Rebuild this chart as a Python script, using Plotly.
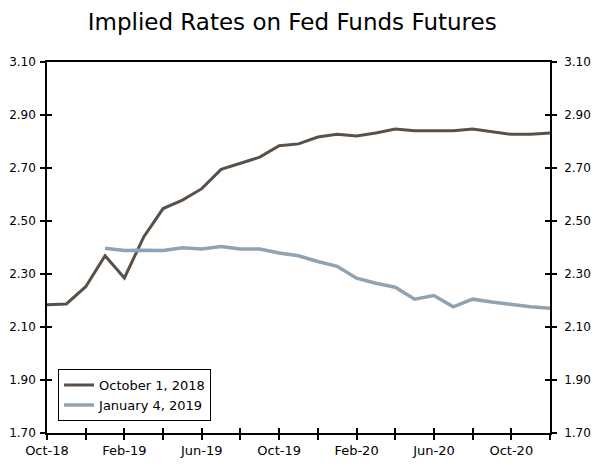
import plotly.graph_objects as go

months = ["Oct-18", "Nov-18", "Dec-18", "Jan-19", "Feb-19", "Mar-19", "Apr-19", "May-19",
          "Jun-19", "Jul-19", "Aug-19", "Sep-19", "Oct-19", "Nov-19", "Dec-19", "Jan-20",
          "Feb-20", "Mar-20", "Apr-20", "May-20", "Jun-20", "Jul-20", "Aug-20", "Sep-20",
          "Oct-20", "Nov-20", "Dec-20"]

oct_2018 = [2.184, 2.187, 2.252, 2.369, 2.285, 2.440, 2.547, 2.579, 2.622, 2.695, 2.718,
            2.741, 2.784, 2.791, 2.817, 2.827, 2.821, 2.832, 2.847, 2.841, 2.841, 2.841,
            2.847, 2.837, 2.827, 2.827, 2.832]

jan_2019_months = months[3:]
jan_2019 = [2.397, 2.389, 2.390, 2.389, 2.399, 2.394, 2.404, 2.394, 2.394, 2.379, 2.369,
            2.347, 2.329, 2.284, 2.265, 2.250, 2.205, 2.219, 2.176, 2.205, 2.194, 2.184,
            2.176, 2.171]

tick_months = months[::2]
tick_labels = [m if i % 2 == 0 else "" for i, m in enumerate(tick_months)]

y_ticks = [1.70, 1.90, 2.10, 2.30, 2.50, 2.70, 2.90, 3.10]
y_labels = ["%.2f" % v for v in y_ticks]

FONT = "DejaVu Sans"

fig = go.Figure()
fig.add_trace(go.Scatter(x=months, y=oct_2018, mode="lines", name="October 1, 2018",
                         line=dict(color="#5b5048", width=3)))
fig.add_trace(go.Scatter(x=jan_2019_months, y=jan_2019, mode="lines", name="January 4, 2019",
                         line=dict(color="#8ea3b3", width=3.5)))
# invisible helper trace so the overlay axes (crossing ticks) are drawn
fig.add_trace(go.Scatter(x=months, y=oct_2018, xaxis="x2", yaxis="y2", mode="lines",
                         line=dict(width=0), opacity=0, showlegend=False, hoverinfo="skip"))

common_y = dict(range=[1.70, 3.10], tickvals=y_ticks, ticktext=y_labels,
                showgrid=False, zeroline=False, showline=True, linecolor="black",
                linewidth=1.5, tickcolor="black", ticklen=5, tickwidth=1.5,
                automargin=False,
                tickfont=dict(family=FONT, size=12, color="black"))

fig.update_layout(
    width=600, height=467,
    margin=dict(l=47, r=50, t=62, b=34),
    paper_bgcolor="white", plot_bgcolor="white",
    title=dict(text="Implied Rates on Fed Funds Futures", x=0.487, xanchor="center",
               y=0.953, yanchor="middle",
               font=dict(family=FONT, size=23, color="black")),
    font=dict(family=FONT, color="black"),
    xaxis=dict(type="category", categoryorder="array", categoryarray=months,
               range=[0, len(months) - 1], tickvals=tick_months, ticktext=tick_labels,
               ticks="outside", ticklen=5, tickwidth=1.5, tickcolor="black",
               showline=True, mirror=True, linecolor="black", linewidth=1.5,
               showgrid=False, zeroline=False, automargin=False,
               tickfont=dict(family=FONT, size=13, color="black")),
    xaxis2=dict(type="category", categoryorder="array", categoryarray=months,
                range=[0, len(months) - 1], tickvals=tick_months,
                overlaying="x", side="bottom", ticks="inside", ticklen=5, tickwidth=1.5,
                tickcolor="black", showticklabels=False, showline=False,
                showgrid=False, zeroline=False, automargin=False),
    yaxis=dict(ticks="outside", mirror="allticks", side="left", ticklabelstandoff=2,
               **common_y),
    yaxis2=dict(ticks="inside", mirror="allticks", side="right", overlaying="y",
                ticklabelstandoff=10, **common_y),
    legend=dict(x=0.022, y=0.032, xanchor="left", yanchor="bottom",
                bgcolor="white", bordercolor="black", borderwidth=1,
                font=dict(family=FONT, size=13, color="black"),
                itemwidth=30, tracegroupgap=0),
    showlegend=True,
)

fig.write_html("out.html", config={"displayModeBar": False},
               post_script="document.body.style.margin='0';document.body.style.padding='0';")
